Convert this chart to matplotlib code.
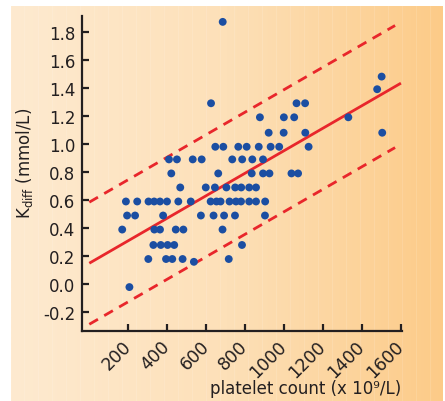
import numpy as np
import matplotlib
matplotlib.use('Agg')
import matplotlib.pyplot as plt
from matplotlib.colors import LinearSegmentedColormap

# platelet count (x 10^9/L) and Kdiff (mmol/L)
platelets = [
    685,
    1501, 1478,
    625, 1064, 1108,
    876, 999, 1052, 1330,
    921, 998, 1109, 1504,
    647, 688, 765, 808, 870, 931, 975, 1126,
    409, 450, 531, 577, 734, 785, 837, 892,
    421, 662, 834, 892, 925, 1038, 1072,
    467, 598, 645, 704, 749, 780, 821, 856,
    188, 246, 304, 333, 363, 399, 457, 521, 623, 653, 674, 720, 753, 779, 821, 856, 903,
    194, 235, 379, 573, 638, 692, 748, 902,
    169, 334, 363, 444, 483, 684,
    329, 367, 402, 436, 784,
    303, 394, 426, 479, 716,
    537,
    206,
]
kdiff = (
    [1.87]
    + [1.48, 1.39]
    + [1.29] * 3
    + [1.19] * 4
    + [1.08] * 4
    + [0.98] * 8
    + [0.89] * 8
    + [0.79] * 7
    + [0.69] * 8
    + [0.59] * 17
    + [0.49] * 8
    + [0.39] * 6
    + [0.28] * 5
    + [0.18] * 5
    + [0.16]
    + [-0.02]
)

# regression line and prediction band
intercept = 0.15
slope = 0.000802
band = 0.435
fit_range = [0, 1600]
band_range = [0, 1570]

xticks = [200, 400, 600, 800, 1000, 1200, 1400, 1600]
yticks = [-0.2, 0.0, 0.2, 0.4, 0.6, 0.8, 1.0, 1.2, 1.4, 1.6, 1.8]

blue = '#1b4ea2'
red = '#e8262b'
ink = '#231f20'

fig = plt.figure(figsize=(4.45, 4.02), dpi=100)
fig.patch.set_facecolor('white')

# orange gradient background
bg = fig.add_axes([11 / 445, 0, 432 / 445, 395 / 402], zorder=0)
cmap = LinearSegmentedColormap.from_list('peach', ['#feead0', '#fde0b8', '#fccb88'])
grad = np.linspace(0, 1, 256).reshape(1, -1)
bg.imshow(grad, aspect='auto', cmap=cmap, extent=[0, 1, 0, 1])
for xs in np.linspace(0.03, 0.97, 30):
    bg.axvline(xs, color='white', alpha=0.12, lw=0.8)
bg.set_axis_off()

ax = fig.add_axes([81.7 / 445, 70 / 402, 320 / 445, 315.3 / 402], zorder=1)
ax.patch.set_alpha(0)

ax.scatter(platelets, kdiff, s=32, color=blue, edgecolors='none', zorder=3)

fx = np.array(fit_range)
bx = np.array(band_range)
ax.plot(fx, intercept + slope * fx, color=red, lw=2.0, zorder=2, solid_capstyle='butt')
ax.plot(bx, intercept + band + slope * bx, color=red, lw=2.0, dashes=(3.6, 2.6), zorder=2)
ax.plot(bx, intercept - band + slope * bx, color=red, lw=2.0, dashes=(3.6, 2.6), zorder=2)

ax.set_xlim(-39, 1604)
ax.set_ylim(-0.333, 1.914)
ax.set_xticks(xticks)
ax.set_yticks(yticks)
ax.set_yticklabels([f'{v:.1f}' for v in yticks])
ax.set_xticklabels([str(v) for v in xticks], rotation=45, ha='right', va='center',
                   rotation_mode='anchor')

for side in ['top', 'right']:
    ax.spines[side].set_visible(False)
for side in ['left', 'bottom']:
    ax.spines[side].set_linewidth(1.6)
    ax.spines[side].set_color(ink)

ax.tick_params(direction='in', length=5, width=1.6, color=ink, labelsize=12, labelcolor=ink)
ax.tick_params(axis='y', pad=4.5)
ax.tick_params(axis='x', pad=9, labelsize=12.5)

ax.set_xlabel('platelet count (x 10\u2079/L)', fontsize=12, color=ink, ha='right', va='top')
ax.xaxis.set_label_coords(1.0, -0.152)
ax.set_ylabel('K$_{\\rm diff}$ (mmol/L)', fontsize=12, color=ink)
ax.yaxis.set_label_coords(-0.145, 0.536)

fig.savefig('out.png', dpi=100)
print(" Generated: out.png")
